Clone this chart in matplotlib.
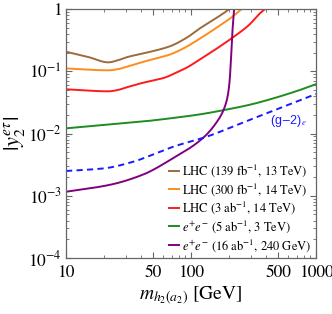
import numpy as np
import matplotlib
matplotlib.use("Agg")
import matplotlib.pyplot as plt
from matplotlib.ticker import FixedLocator, NullFormatter, FixedFormatter

plt.rcParams['font.family'] = ['STIXGeneral', 'DejaVu Serif']
plt.rcParams['mathtext.fontset'] = 'stix'

# ---- data ----
m_lhc139 = [10, 15, 21.8, 26, 30.6, 41.6, 56.5, 67.9, 92.2, 118, 160, 202, 210]
y_lhc139 = [0.206, 0.170, 0.139, 0.150, 0.168, 0.194, 0.225, 0.252, 0.345, 0.49, 0.72, 1.0, 1.08]

m_lhc300 = [10, 21.8, 26, 30.6, 41.6, 56.5, 63.8, 76.9, 92.2, 118, 160, 213, 254, 262]
y_lhc300 = [0.111, 0.1035, 0.108, 0.118, 0.142, 0.167, 0.178, 0.206, 0.248, 0.335, 0.50, 0.744, 1.0, 1.06]

m_lhc3ab = [10, 21.8, 26, 30.6, 41.6, 56.5, 63.8, 76.9, 92.2, 118, 160, 213, 290, 356, 391, 400]
y_lhc3ab = [0.0513, 0.0476, 0.050, 0.0552, 0.0655, 0.0751, 0.081, 0.096, 0.114, 0.155, 0.23, 0.342, 0.55, 0.853, 1.0, 1.05]

m_ee3tev = [10, 20, 40, 68, 118, 180, 296, 400, 700, 1000]
y_ee3tev = [0.0121, 0.0137, 0.0155, 0.0175, 0.0203, 0.0236, 0.0290, 0.034, 0.048, 0.062]

m_ee240 = [10, 22.5, 41.6, 68, 125.5, 165, 181, 195, 203, 209, 214, 222]
y_ee240 = [1.16e-3, 1.5e-3, 2.2e-3, 3.75e-3, 8.57e-3, 0.0165, 0.0232, 0.037, 0.065, 0.16, 0.407, 1.09]

m_g2 = [10, 20, 35, 55, 75, 125, 296, 1000]
y_g2 = [2.5e-3, 2.75e-3, 3.55e-3, 5.0e-3, 6.3e-3, 8.5e-3, 0.0166, 0.0431]

labels = [r"LHC (139 fb$^{-1}$, 13 TeV)",
          r"LHC (300 fb$^{-1}$, 14 TeV)",
          r"LHC (3 ab$^{-1}$, 14 TeV)",
          r"$e^{+}e^{-}$ (5 ab$^{-1}$, 3 TeV)",
          r"$e^{+}e^{-}$ (16 ab$^{-1}$, 240 GeV)"]
colors = ['#9C6B3C', '#FF8C1A', '#FF1A1A', '#1E8C1E', '#800080']

xticks = [10, 50, 100, 500, 1000]
xticklabels = ["10", "50", "100", "500", "1000"]
yticks = [1e-4, 1e-3, 1e-2, 1e-1, 1]
yticklabels = [r"$10^{-4}$", r"$10^{-3}$", r"$10^{-2}$", r"$10^{-1}$", "1"]


def pchip(x, y, xs):
    x = np.asarray(x, float); y = np.asarray(y, float)
    h = np.diff(x); d = np.diff(y) / h
    n = len(x); m = np.zeros(n)
    for k in range(1, n - 1):
        if d[k - 1] * d[k] > 0:
            w1 = 2 * h[k] + h[k - 1]; w2 = h[k] + 2 * h[k - 1]
            m[k] = (w1 + w2) / (w1 / d[k - 1] + w2 / d[k])
    m[0] = d[0]; m[-1] = d[-1]
    idx = np.clip(np.searchsorted(x, xs) - 1, 0, n - 2)
    t = (xs - x[idx]) / h[idx]
    h00 = 2 * t**3 - 3 * t**2 + 1; h10 = t**3 - 2 * t**2 + t
    h01 = -2 * t**3 + 3 * t**2; h11 = t**3 - t**2
    return (h00 * y[idx] + h10 * h[idx] * m[idx] + h01 * y[idx + 1]
            + h11 * h[idx] * m[idx + 1])


def smooth(mx, my):
    lx = np.log10(mx); ly = np.log10(my)
    xs = np.linspace(lx[0], lx[-1], 600)
    return 10**xs, 10**pchip(lx, ly, xs)


fig = plt.figure(figsize=(3.32, 3.14), dpi=100)
ax = fig.add_axes([66/332, 56/314, 250/332, 249/314])

series = [(m_lhc139, y_lhc139), (m_lhc300, y_lhc300), (m_lhc3ab, y_lhc3ab),
          (m_ee3tev, y_ee3tev), (m_ee240, y_ee240)]
for (mx, my), lab, c in zip(series, labels, colors):
    xs, ys = smooth(mx, my)
    ax.plot(xs, ys, color=c, lw=1.4, label=lab)

gx, gy = smooth(m_g2, y_g2)
ax.plot(gx, gy, color='#1A1AFF', lw=1.4, ls=(0, (3.2, 2.2)))
ax.text(600, 0.0158, r"(g$-$2)$_e$", color='#1A1AFF', fontsize=9,
        family='Liberation Sans', ha='center', va='center')

ax.set_xscale('log'); ax.set_yscale('log')
ax.set_xlim(10, 1000); ax.set_ylim(1e-4, 1)

ax.xaxis.set_major_locator(FixedLocator(xticks))
ax.xaxis.set_major_formatter(FixedFormatter(xticklabels))
minx = [v * d for d in [10, 100] for v in range(1, 10)]
minx = [v for v in minx if 10 <= v <= 1000 and v not in xticks]
ax.xaxis.set_minor_locator(FixedLocator(minx))
ax.xaxis.set_minor_formatter(NullFormatter())
ax.yaxis.set_major_locator(FixedLocator(yticks))
ax.yaxis.set_major_formatter(FixedFormatter(yticklabels))
miny = [k * 10.0**e for e in range(-4, 0) for k in range(2, 10)]
ax.yaxis.set_minor_locator(FixedLocator(miny))
ax.yaxis.set_minor_formatter(NullFormatter())

spc = '#666666'
for s in ax.spines.values():
    s.set_color(spc); s.set_linewidth(0.9)
ax.tick_params(which='both', direction='in', top=True, right=True, color=spc,
               labelsize=12.5)
ax.tick_params(axis='x', which='major', pad=5)
ax.tick_params(axis='y', which='major', pad=3)
ax.tick_params(which='major', length=4.5, width=0.8)
ax.tick_params(which='minor', length=2.5, width=0.6)

ax.set_xlabel(r"$m_{h_2(a_2)}$ [GeV]", fontsize=14, labelpad=3)
ax.set_ylabel(r"$|y_2^{e\tau}|$", fontsize=16, labelpad=1)

leg = ax.legend(loc='lower right', fontsize=9, frameon=False, handlelength=0.8,
                handletextpad=0.3, labelspacing=0.15, borderaxespad=0.15,
                borderpad=0.2)

fig.savefig("out.png", dpi=100)
